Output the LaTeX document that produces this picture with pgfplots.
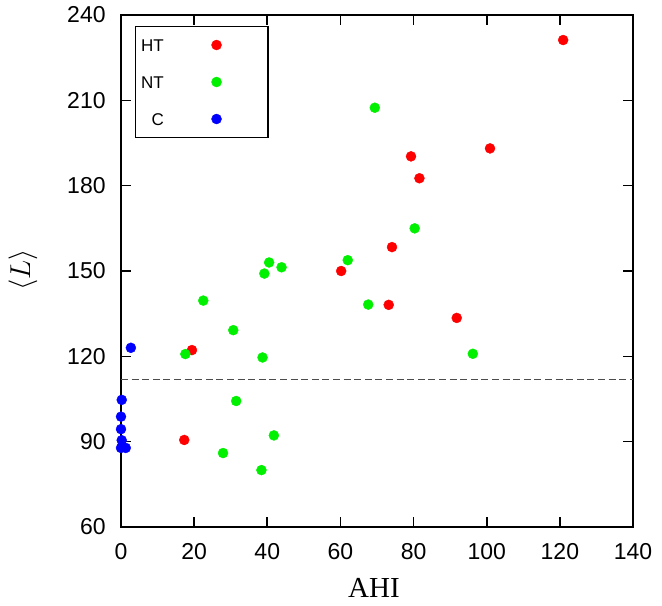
\documentclass[border=0pt]{standalone}
\usepackage{fontspec}
\setmainfont{Liberation Sans}
\newfontfamily\timesfont{Liberation Serif}
\usepackage{pgfplots}
\pgfplotsset{compat=1.18}

\definecolor{htRed}{HTML}{FF0000}
\definecolor{ntGreen}{HTML}{00F000}
\definecolor{cBlue}{HTML}{0000FF}

\pgfplotsset{
  dot/.style={only marks, mark=*, mark size=2.5pt, color=#1,
              mark options={solid, fill=#1, draw=#1, line width=0.2pt}},
}

\begin{document}
\begin{tikzpicture}
\begin{axis}[
  scale only axis, width=256pt, height=256pt,
  xmin=0, xmax=140, ymin=60, ymax=240,
  xtick={0,20,...,140}, ytick={60,90,...,240},
  tick align=inside, major tick length=5pt,
  axis line style={line width=1pt},
  tick style={black, line width=0.8pt},
  /pgf/number format/assume math mode=true,
  tick label style={font=\fontsize{11.5}{12}\selectfont},
  yticklabel style={inner sep=0pt, xshift=-7.5pt},
  xticklabel style={inner sep=0pt, yshift=-8pt},
  xlabel={\timesfont AHI},
  xlabel style={font=\fontsize{14.5}{16}\selectfont,
                at={([yshift=-30.5pt]axis description cs:0.494,0)}, anchor=center},
  ylabel={$\langle L\rangle$},
  ylabel style={font=\fontsize{14}{16}\selectfont, inner sep=0pt,
                at={([xshift=-49pt]axis description cs:0,0.502)}, anchor=center},
  clip=false,
  legend plot pos=right,
  legend image code/.code={
    \path (0pt,0pt) (48.6pt,0pt);
    \draw plot coordinates {(26pt,0pt)};
  },
  legend style={
    at={(axis description cs:0.0273,0.979)}, anchor=north west,
    draw=black, line width=0.75pt, fill=white,
    inner xsep=2.7pt, inner ysep=0pt, row sep=0pt, column sep=0pt,
    font=\fontsize{8.5}{9}\selectfont,
    nodes={inner sep=0pt, text height=12.25pt, text depth=6.25pt},
    cells={anchor=east},
  },
]
\addplot[black!70, line width=0.5pt, dash pattern=on 3.5pt off 1.8pt,
         no marks, sharp plot, forget plot] coordinates {(0,112) (140,112)};
\addplot[dot=htRed] coordinates {
  (17.3,90.6) (19.4,122.2) (60.2,150.0) (73.2,138.1) (74.1,158.4)
  (79.3,190.3) (81.6,182.6) (91.8,133.5) (100.9,193.1) (120.9,231.2)
};
\addlegendentry{HT}
\addplot[dot=ntGreen] coordinates {
  (17.6,120.8) (22.5,139.6) (27.9,86.0) (30.7,129.2) (31.5,104.3)
  (38.4,80.0) (38.7,119.6) (39.2,149.1) (40.5,153.0) (41.8,92.2)
  (43.9,151.3) (62.0,153.8) (67.6,138.2) (69.4,207.4) (80.3,165.0)
  (96.2,120.9)
};
\addlegendentry{NT}
\addplot[dot=cBlue] coordinates {
  (0.2,104.7) (0.0,98.8) (0.0,94.4) (0.2,90.5) (0.0,87.8) (1.3,87.8)
  (2.7,123.0)
};
\addlegendentry{C}
\end{axis}
\pgfresetboundingbox
\useasboundingbox ([shift={(-60.5pt,-39pt)}]current axis.south west)
  rectangle ([shift={(14.5pt,7.5pt)}]current axis.north east);
\end{tikzpicture}
\end{document}
